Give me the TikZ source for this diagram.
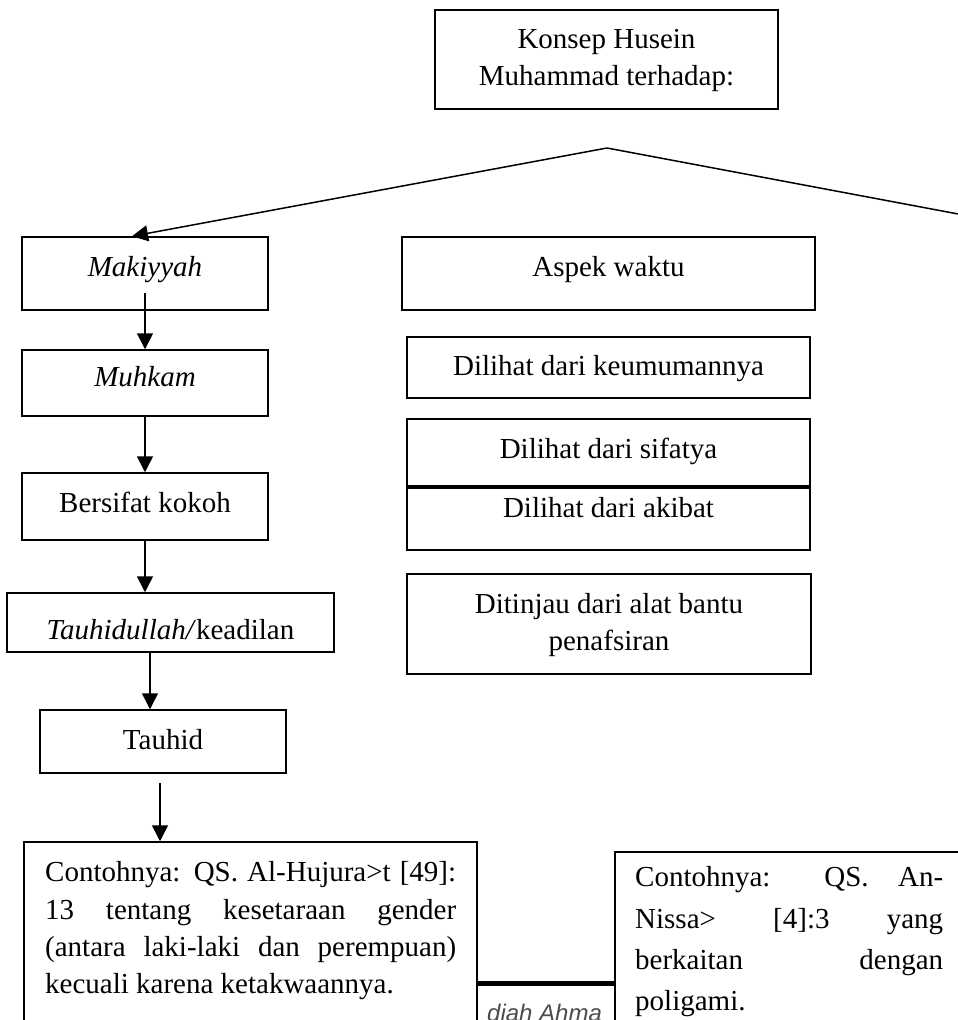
\documentclass[tikz,border=0pt]{standalone}
\usepackage{fontspec}
\setmainfont{Liberation Serif}
\newfontfamily\hdrfont{Liberation Sans}
\usetikzlibrary{arrows.meta}
\begin{document}
\begin{tikzpicture}[x=1pt,y=-1pt,
  box/.style={draw, line width=1.5pt, fill=white, inner sep=0pt,
    font=\fontsize{29}{37}\selectfont},
  tx/.style 2 args={text height=#1pt, text depth=#2pt},
  arr/.style={line width=1.5pt, -{Triangle[length=16pt,width=16pt]}},
  plain/.style={line width=1.5pt},
  para/.style={anchor=base west, inner sep=0pt}]
\useasboundingbox (0,0) rectangle (958,1020);
\clip (0,0) rectangle (958,1020);

% partly hidden running text behind the boxes
\node (hdr) [anchor=base west, inner sep=0pt, text=black!70,
  font=\hdrfont\itshape\fontsize{24}{28}\selectfont] at (487,1021) {diah Ahma};

% top
\node (top) [box, minimum width=343pt, minimum height=99pt, tx={20}{43}] at (606.5,59.5)
  {\begin{tabular}[t]{@{}c@{}}Konsep Husein\\Muhammad terhadap:\end{tabular}};

% left column
\node (mak) [box, minimum width=246pt, minimum height=73pt, tx={24.5}{19.5}] at (145,273.5) {\itshape Makiyyah};
\node (muh) [box, minimum width=246pt, minimum height=66pt, tx={25.7}{18.3}] at (145,383) {\itshape Muhkam};
\node (bers) [box, minimum width=246pt, minimum height=67pt, tx={27.5}{16.5}] at (145,506.5) {Bersifat kokoh};
\node (tauh) [box, minimum width=327pt, minimum height=59pt, tx={38.5}{5.5}] at (170.5,622.5) {\textit{Tauhidullah/}keadilan};
\node (tauhid) [box, minimum width=246pt, minimum height=63pt, tx={29.8}{14.2}] at (163,741.5) {Tauhid};

% right column
\node (aspek) [box, minimum width=413pt, minimum height=73pt, tx={24.5}{19.5}] at (608.5,273.5) {Aspek waktu};
\node (keum) [box, minimum width=403pt, minimum height=61pt, tx={29.5}{14.5}] at (608.5,367.5) {Dilihat dari keumumannya};
\node (sifat) [box, minimum width=403pt, minimum height=67pt, tx={27.5}{16.5}] at (608.5,452.5) {Dilihat dari sifatya};
\node (akibat) [box, minimum width=403pt, minimum height=62pt, tx={20}{24}] at (608.5,519) {Dilihat dari akibat};
\node (tinjau) [box, minimum width=404pt, minimum height=100pt, tx={18}{40}] at (609,624)
  {\begin{tabular}[t]{@{}c@{}}Ditinjau dari alat bantu\\penafsiran\end{tabular}};

% example boxes
\node (ex1) [box, minimum width=453pt, minimum height=218pt] at (250.5,951) {};
\node (ex2) [box, minimum width=348pt, minimum height=208pt] at (789,956) {};
\node (ex1t) [para] at (45,881.7) {\fontsize{29}{37.4}\selectfont
  \begin{tabular}[t]{@{}l@{}}
  \makebox[411pt][s]{Contohnya: QS. Al-Hujura>t [49]:}\\
  \makebox[411pt][s]{13 tentang kesetaraan gender}\\
  \makebox[411pt][s]{(antara laki-laki dan perempuan)}\\
  kecuali karena ketakwaannya.
  \end{tabular}};
\node (ex2t) [para] at (635,886.7) {\fontsize{29}{41.3}\selectfont
  \begin{tabular}[t]{@{}l@{}}
  \makebox[308pt][s]{Contohnya: QS. An-}\\
  \makebox[308pt][s]{Nissa> [4]:3 yang}\\
  \makebox[308pt][s]{berkaitan dengan}\\
  poligami.
  \end{tabular}};
\draw[line width=4.5pt] ([yshift=-142pt]ex1.north east) -- ([yshift=-132pt]ex2.north west);

% connectors
\coordinate (apex) at (607,148);
\coordinate (rend) at (980,218.1);
\draw[arr] (apex) -- ([xshift=-13pt]mak.north);
\draw[plain] (apex) -- (rend);
\draw[arr] ([yshift=-19.5pt]mak.center) -- (muh.north);
\draw[arr] (muh.south) -- (bers.north);
\draw[arr] (bers.south) -- (bers.south |- tauh.north);
\draw[arr] ([xshift=-20.5pt]tauh.south) -- ([xshift=-20.5pt]tauh.south |- tauhid.north);
\draw[arr] ([xshift=-3pt,yshift=-9pt]tauhid.south) -- ([xshift=-3pt]tauhid.south |- ex1.north);
\end{tikzpicture}
\end{document}
